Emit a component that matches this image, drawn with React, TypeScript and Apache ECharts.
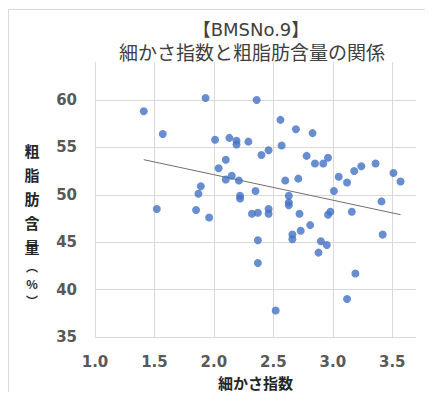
import React, { useEffect, useRef } from "react";
import * as echarts from "echarts";

const titleLines = ["【BMSNo.9】", "細かさ指数と粗脂肪含量の関係"];
const xAxisName = "細かさ指数";
const yAxisNameChars = ["粗", "脂", "肪", "含", "量", "︵", "%", "︶"];

const xTicks = { min: 1.0, max: 3.7, interval: 0.5 };
const yTicks = { min: 35, max: 64, interval: 5 };

// fineness index
const fineness = [
  1.41, 1.93, 2.36, 1.57, 2.01, 2.13, 2.19, 2.19, 2.29, 2.40,
  2.10, 2.04, 2.15, 2.10, 2.21, 2.35, 1.89, 1.87, 2.22, 2.22,
  1.52, 1.85, 1.96, 2.32, 2.37, 2.37, 2.37, 2.56, 2.69, 2.83,
  2.57, 2.46, 2.78, 2.85, 2.92, 2.96, 3.36, 3.24, 3.18, 3.51,
  3.05, 3.12, 3.57, 2.71, 2.60, 3.01, 2.63, 2.63, 2.63, 3.41,
  2.46, 2.46, 2.72, 2.98, 2.96, 3.16, 2.66, 2.66, 2.73, 2.81,
  2.90, 2.95, 2.88, 3.42, 3.19, 3.12, 2.52,
];
// crude fat content (%)
const crudeFat = [
  58.8, 60.2, 60.0, 56.4, 55.8, 56.0, 55.7, 55.3, 55.6, 54.2,
  53.7, 52.8, 52.0, 51.6, 51.5, 50.4, 50.9, 50.1, 49.9, 49.6,
  48.5, 48.4, 47.6, 48.0, 48.1, 45.2, 42.8, 57.9, 56.9, 56.5,
  55.2, 54.7, 54.1, 53.3, 53.3, 53.9, 53.3, 53.0, 52.5, 52.3,
  51.9, 51.3, 51.4, 51.7, 51.5, 50.4, 49.9, 49.2, 48.9, 49.3,
  48.5, 48.0, 48.0, 48.2, 47.9, 48.2, 45.8, 45.3, 46.2, 46.8,
  45.1, 44.7, 43.9, 45.8, 41.7, 39.0, 37.8,
];

// linear trendline end points
const trendX = [1.41, 3.57];
const trendY = [53.7, 47.9];

// vertical offsets of the stacked y-axis title characters
const yNameOffsets = [150, 174, 198, 222, 246, 266, 283, 300];

export default function App() {
  const ref = useRef<HTMLDivElement>(null);
  useEffect(() => {
    if (!ref.current) return;
    const chart = echarts.init(ref.current, null, { renderer: "svg" });
    const latin = "DejaVu Sans, Noto Sans CJK JP, sans-serif";
    const cjk = "Noto Sans CJK JP, sans-serif";
    const yNameTexts = yAxisNameChars.map((ch, i) => ({
      type: "text",
      x: 32,
      y: yNameOffsets[i],
      style: {
        text: ch,
        font: `bold ${i >= 5 ? 12 : 15}px ${cjk}`,
        fill: "#262626",
        align: "center",
        verticalAlign: "middle",
      },
    }));
    chart.setOption({
      animation: false,
      backgroundColor: "#ffffff",
      grid: { left: 95, right: 17, top: 62, bottom: 63 },
      graphic: [
        {
          type: "rect",
          shape: { x: 8.5, y: 9.5, width: 500, height: 500 },
          style: { fill: "none", stroke: "#d9d9d9", lineWidth: 1 },
          silent: true,
          z: -1,
        },
        {
          type: "text",
          x: 251,
          y: 29,
          style: {
            text: titleLines[0],
            font: `18px ${latin}`,
            fill: "#404040",
            align: "center",
            verticalAlign: "middle",
          },
        },
        {
          type: "text",
          x: 252,
          y: 51,
          style: {
            text: titleLines[1],
            font: `19px ${cjk}`,
            fill: "#404040",
            align: "center",
            verticalAlign: "middle",
          },
        },
        ...yNameTexts,
      ],
      xAxis: {
        type: "value",
        min: xTicks.min,
        max: xTicks.max,
        interval: xTicks.interval,
        name: xAxisName,
        nameLocation: "middle",
        nameGap: 45,
        nameTextStyle: {
          fontFamily: cjk,
          fontWeight: "bold",
          fontSize: 15,
          color: "#262626",
          verticalAlign: "middle",
        },
        axisLine: { show: false },
        axisTick: { show: false },
        axisLabel: {
          margin: 17,
          showMaxLabel: false,
          fontFamily: latin,
          fontWeight: "bold",
          fontSize: 15,
          color: "#595959",
          formatter: (v: number) => v.toFixed(1),
        },
        splitLine: { show: true, showMaxLine: false, lineStyle: { color: "#d9d9d9", width: 1 } },
      },
      yAxis: {
        type: "value",
        min: yTicks.min,
        max: yTicks.max,
        interval: yTicks.interval,
        axisLine: { show: false },
        axisTick: { show: false },
        axisLabel: {
          margin: 18,
          showMaxLabel: false,
          fontFamily: latin,
          fontWeight: "bold",
          fontSize: 15,
          color: "#595959",
        },
        splitLine: { show: true, showMaxLine: false, lineStyle: { color: "#d9d9d9", width: 1 } },
      },
      series: [
        {
          type: "scatter",
          data: fineness.map((x, i) => [x, crudeFat[i]]),
          symbol: "circle",
          symbolSize: 8,
          itemStyle: { color: "#4472C4" },
          z: 3,
        },
        {
          type: "line",
          data: trendX.map((x, i) => [x, trendY[i]]),
          symbol: "none",
          lineStyle: { color: "#707070", width: 1 },
          z: 2,
        },
      ],
    });
    return () => chart.dispose();
  }, []);
  return <div ref={ref} style={{ width: 433, height: 400, margin: -8 }} />;
}
